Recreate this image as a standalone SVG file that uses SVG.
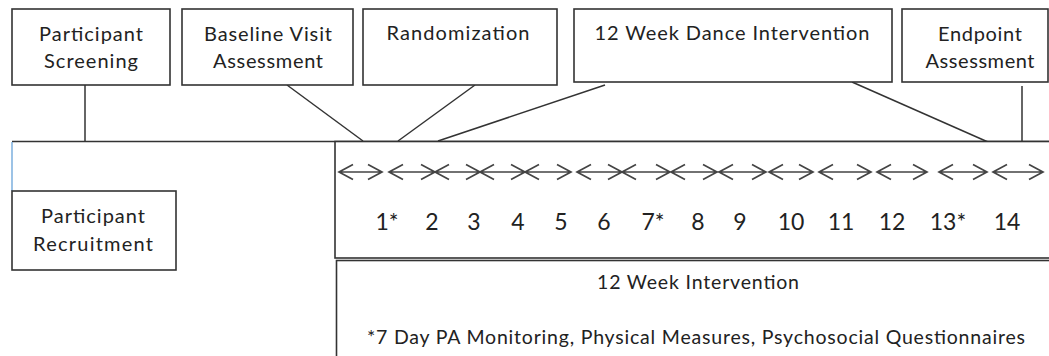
<svg xmlns="http://www.w3.org/2000/svg" width="1049" height="356" viewBox="0 0 1049 356">
<style>
.box{fill:#fff;stroke:#333;stroke-width:1.6}
.lbl{font-family:Lato,"Open Sans",sans-serif;font-size:20px;fill:#222;text-anchor:middle}
.num{font-family:Lato,"Open Sans",sans-serif;font-size:23px;fill:#222;text-anchor:middle}
.sm{font-family:Lato,"Open Sans",sans-serif;font-size:19.5px;fill:#222;text-anchor:middle}
.con{fill:none;stroke:#333;stroke-width:1.5}
.arr{fill:none;stroke:#444;stroke-width:1.7}
</style>
<rect width="1049" height="356" fill="#fff"/>
<g id="connectors">
<line class="con" x1="85" y1="85" x2="85" y2="141.5"/>
<line class="con" x1="12" y1="141.5" x2="1049" y2="141.5"/>
<line x1="12" y1="142" x2="12" y2="191" stroke="#5b9bd5" stroke-width="1.2"/>
<line class="con" x1="287" y1="85" x2="363" y2="141"/>
<line class="con" x1="475" y1="85" x2="398" y2="141"/>
<line class="con" x1="605" y1="85" x2="438" y2="141"/>
<line class="con" x1="852" y1="82" x2="988" y2="142"/>
<line class="con" x1="1022" y1="86" x2="1022" y2="142"/>
</g>
<g id="screening">
<rect class="box" x="12" y="9" width="158" height="76"/>
<text class="lbl" x="91" y="41" textLength="104">Participant</text>
<text class="lbl" x="91" y="68" textLength="94">Screening</text>
</g>
<g id="baseline">
<rect class="box" x="182" y="9" width="171" height="76"/>
<text class="lbl" x="268" y="41" textLength="128">Baseline Visit</text>
<text class="lbl" x="268" y="68" textLength="110">Assessment</text>
</g>
<g id="randomization">
<rect class="box" x="363" y="9" width="194" height="76"/>
<text class="lbl" x="458" y="40" textLength="143">Randomization</text>
</g>
<g id="dance">
<rect class="box" x="574" y="9" width="318" height="73"/>
<text class="lbl" x="732" y="40" textLength="275">12 Week Dance Intervention</text>
</g>
<g id="endpoint">
<rect class="box" x="902" y="9" width="146" height="73"/>
<text class="lbl" x="980" y="41" textLength="84">Endpoint</text>
<text class="lbl" x="980" y="68" textLength="109">Assessment</text>
</g>
<g id="recruitment">
<rect class="box" x="12" y="191" width="164" height="79"/>
<text class="lbl" x="93" y="223" textLength="104">Participant</text>
<text class="lbl" x="93" y="251" textLength="120">Recruitment</text>
</g>
<g id="timeline">
<rect class="box" x="335" y="141.5" width="730" height="116.5"/>
<path class="arr" d="M339 172H382M353 164.5L339 172L353 179.5M368 164.5L382 172L368 179.5
M389 172H435M403 164.5L389 172L403 179.5M421 164.5L435 172L421 179.5
M435 172H480M449 164.5L435 172L449 179.5M466 164.5L480 172L466 179.5
M480 172H525M494 164.5L480 172L494 179.5M511 164.5L525 172L511 179.5
M525 172H571M539 164.5L525 172L539 179.5M557 164.5L571 172L557 179.5
M577 172H622M591 164.5L577 172L591 179.5M608 164.5L622 172L608 179.5
M622 172H670M636 164.5L622 172L636 179.5M656 164.5L670 172L656 179.5
M671 172H717M685 164.5L671 172L685 179.5M703 164.5L717 172L703 179.5
M719 172H766M733 164.5L719 172L733 179.5M752 164.5L766 172L752 179.5
M769 172H813M783 164.5L769 172L783 179.5M799 164.5L813 172L799 179.5
M819 172H871M833 164.5L819 172L833 179.5M857 164.5L871 172L857 179.5
M877 172H927M891 164.5L877 172L891 179.5M913 164.5L927 172L913 179.5
M939 172H987M953 164.5L939 172L953 179.5M973 164.5L987 172L973 179.5
M993 172H1043M1007 164.5L993 172L1007 179.5M1029 164.5L1043 172L1029 179.5"/>
<text class="num" x="387" y="230">1*</text>
<text class="num" x="432" y="230">2</text>
<text class="num" x="474" y="230">3</text>
<text class="num" x="518" y="230">4</text>
<text class="num" x="561" y="230">5</text>
<text class="num" x="604" y="230">6</text>
<text class="num" x="653" y="230">7*</text>
<text class="num" x="698" y="230">8</text>
<text class="num" x="740" y="230">9</text>
<text class="num" x="791" y="230">10</text>
<text class="num" x="841" y="230">11</text>
<text class="num" x="892" y="230">12</text>
<text class="num" x="948" y="230">13*</text>
<text class="num" x="1007" y="230">14</text>
</g>
<g id="intervention">
<rect class="box" x="336.5" y="260.5" width="730" height="120"/>
<text class="sm" x="698" y="289" textLength="202">12 Week Intervention</text>
<text class="sm" x="696" y="344" textLength="658">*7 Day PA Monitoring, Physical Measures, Psychosocial Questionnaires</text>
</g>
</svg>
